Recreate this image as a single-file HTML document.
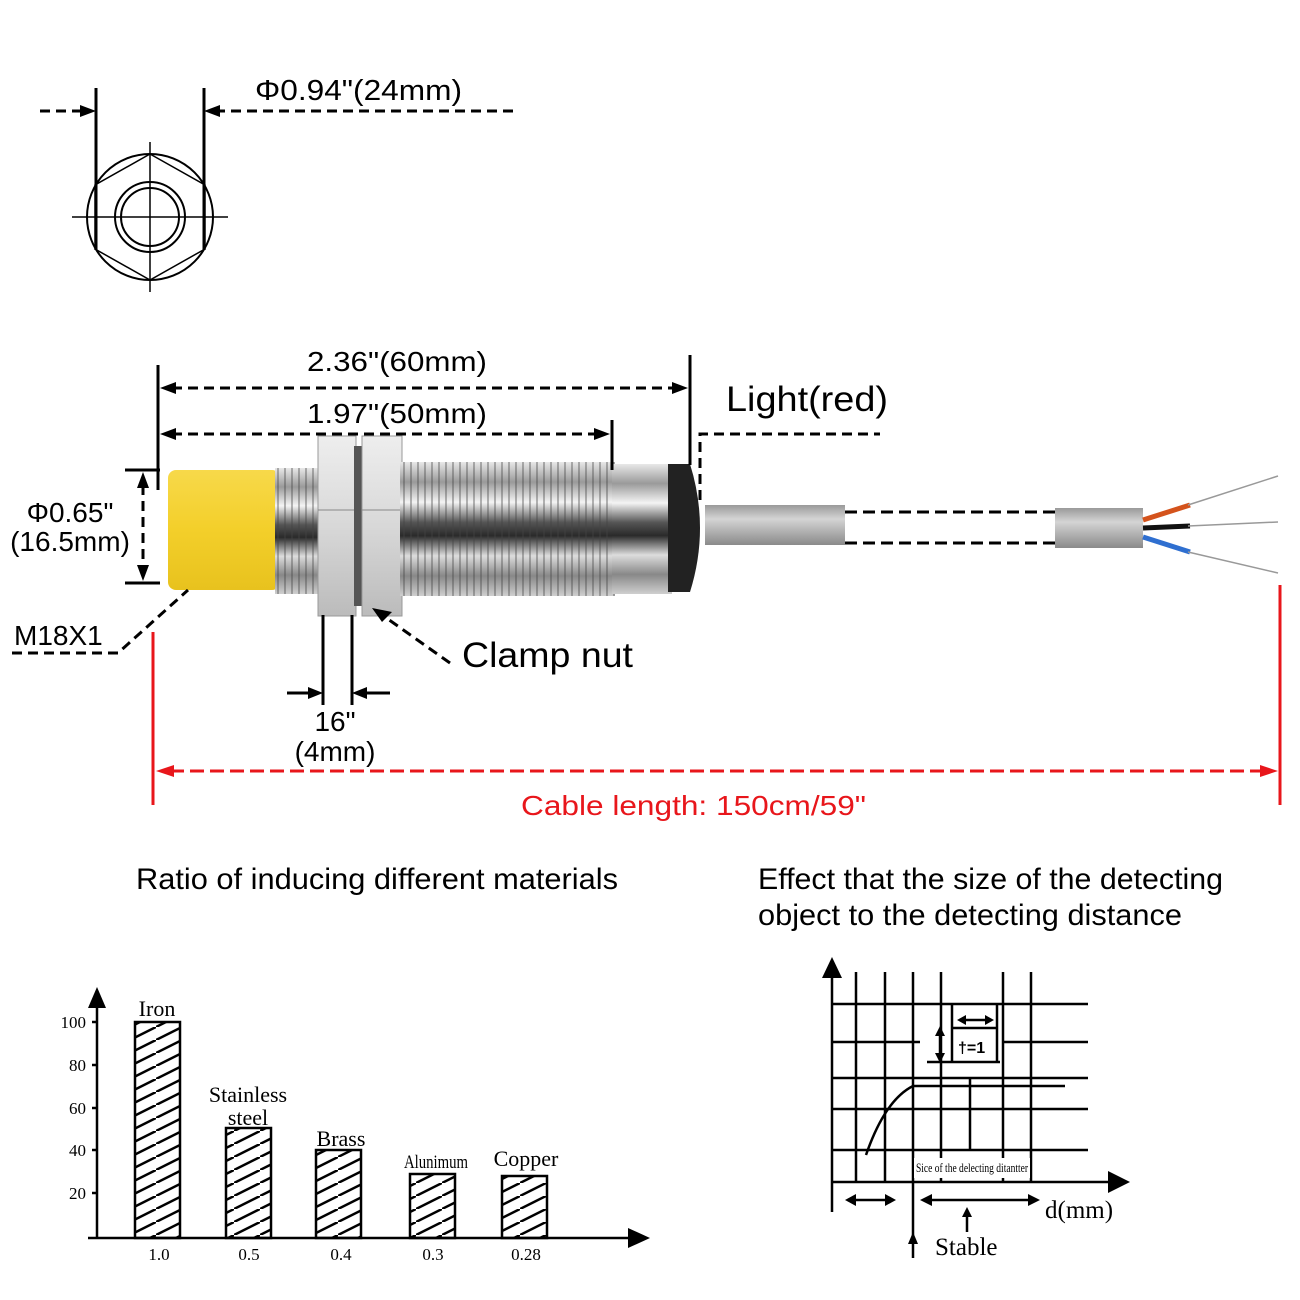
<!DOCTYPE html>
<html><head><meta charset="utf-8"><style>
html,body{margin:0;padding:0;background:#fff;}
svg{display:block}
.s{font-family:"Liberation Sans",sans-serif;}
.r{font-family:"Liberation Serif",serif;}
</style></head><body>
<svg width="1300" height="1300" viewBox="0 0 1300 1300" xmlns="http://www.w3.org/2000/svg">
<defs>
<pattern id="h" patternUnits="userSpaceOnUse" width="26" height="13">
<line x1="-2" y1="14" x2="28" y2="-1" stroke="#000" stroke-width="2.5"/>
</pattern>
<linearGradient id="yel" x1="0" y1="0" x2="0" y2="1">
<stop offset="0" stop-color="#f7d94a"/><stop offset="0.5" stop-color="#f3cf2a"/><stop offset="1" stop-color="#e8c21e"/></linearGradient>
<linearGradient id="met" x1="0" y1="0" x2="0" y2="1">
<stop offset="0" stop-color="#e8e8e8"/><stop offset="0.15" stop-color="#9a9a9a"/><stop offset="0.3" stop-color="#f4f4f4"/><stop offset="0.45" stop-color="#555"/><stop offset="0.55" stop-color="#2a2a2a"/><stop offset="0.7" stop-color="#ddd"/><stop offset="0.85" stop-color="#888"/><stop offset="1" stop-color="#cfcfcf"/></linearGradient>
<linearGradient id="nut" x1="0" y1="0" x2="0" y2="1">
<stop offset="0" stop-color="#eee"/><stop offset="0.5" stop-color="#d8d8d8"/><stop offset="1" stop-color="#bbb"/></linearGradient>
<linearGradient id="cab" x1="0" y1="0" x2="0" y2="1">
<stop offset="0" stop-color="#9a9a9a"/><stop offset="0.35" stop-color="#d4d4d4"/><stop offset="1" stop-color="#8a8a8a"/></linearGradient>
<pattern id="thr" patternUnits="userSpaceOnUse" width="7" height="10">
<rect width="7" height="10" fill="none"/><line x1="5" y1="0" x2="5" y2="10" stroke="#444" stroke-width="1.5" opacity="0.5"/></pattern>
</defs>

<!-- top view -->
<g stroke="#000" fill="none" stroke-width="2">
<circle cx="150" cy="217" r="63"/>
<polygon points="150,154 205,185 205,249 150,280 95,249 95,185" stroke-width="1.5"/>
<circle cx="150" cy="217" r="35"/>
<circle cx="150" cy="217" r="29"/>
<line x1="72" y1="217" x2="228" y2="217" stroke-width="1.5"/>
<line x1="150" y1="142" x2="150" y2="292" stroke-width="1.5"/>
<line x1="96" y1="88" x2="96" y2="250" stroke-width="3"/>
<line x1="204" y1="88" x2="204" y2="250" stroke-width="3"/>
<line x1="40" y1="111" x2="90" y2="111" stroke-width="3" stroke-dasharray="10,6"/>
<line x1="215" y1="111" x2="515" y2="111" stroke-width="3" stroke-dasharray="10,6"/>
</g>
<polygon points="96,111 80,105 80,117" fill="#000"/>
<polygon points="204,111 220,105 220,117" fill="#000"/>
<text x="255" y="100" class="s" font-size="29" textLength="207" lengthAdjust="spacingAndGlyphs">Φ0.94"(24mm)</text>

<!-- sensor -->
<rect x="168" y="470" width="112" height="120" rx="8" fill="url(#yel)"/>
<rect x="275" y="468" width="45" height="126" fill="url(#met)"/>
<rect x="275" y="468" width="45" height="126" fill="url(#thr)"/>
<rect x="318" y="436" width="38" height="180" fill="url(#nut)" stroke="#999"/>
<line x1="318" y1="510" x2="356" y2="510" stroke="#888"/>
<rect x="354" y="446" width="10" height="160" fill="#555"/>
<rect x="362" y="436" width="40" height="180" fill="url(#nut)" stroke="#999"/>
<line x1="362" y1="510" x2="402" y2="510" stroke="#888"/>
<rect x="400" y="462" width="215" height="134" fill="url(#met)"/>
<rect x="400" y="462" width="215" height="134" fill="url(#thr)"/>
<rect x="612" y="464" width="60" height="130" fill="url(#met)"/>
<path d="M668,464 L690,464 Q710,528 690,592 L668,592 Z" fill="#222"/>
<rect x="705" y="505" width="140" height="40" fill="url(#cab)"/>
<rect x="1055" y="508" width="88" height="40" fill="url(#cab)"/>
<g stroke-width="5" fill="none">
<path d="M1143,520 L1190,505" stroke="#d4531c"/>
<path d="M1143,528 L1190,526" stroke="#111"/>
<path d="M1143,537 L1190,552" stroke="#2f6fd0"/>
</g>
<g stroke="#999" stroke-width="1.5" fill="none">
<path d="M1188,505 L1278,476"/><path d="M1188,526 L1278,522"/><path d="M1188,552 L1278,573"/>
</g>
<g stroke="#000" stroke-width="3" fill="none" stroke-dasharray="12,6">
<line x1="845" y1="512" x2="1055" y2="512"/>
<line x1="845" y1="543" x2="1055" y2="543"/>
</g>

<!-- dimensions -->
<g stroke="#000" stroke-width="3" fill="none">
<line x1="158" y1="365" x2="158" y2="490"/>
<line x1="690" y1="355" x2="690" y2="465"/>
<line x1="612" y1="420" x2="612" y2="470"/>
<line x1="172" y1="388" x2="678" y2="388" stroke-dasharray="10,6"/>
<line x1="172" y1="434" x2="600" y2="434" stroke-dasharray="10,6"/>
<path d="M700,500 L700,434 L880,434" stroke-dasharray="10,6"/>
<line x1="125" y1="470" x2="160" y2="470"/>
<line x1="125" y1="583" x2="160" y2="583"/>
<line x1="143" y1="485" x2="143" y2="570" stroke-dasharray="10,6"/>
<path d="M12,653 L118,653 L188,590" stroke-dasharray="10,6"/>
<line x1="450" y1="663" x2="385" y2="617" stroke-dasharray="10,6"/>
<line x1="323" y1="615" x2="323" y2="705"/>
<line x1="352" y1="615" x2="352" y2="705"/>
<line x1="287" y1="693" x2="312" y2="693"/>
<line x1="390" y1="693" x2="363" y2="693"/>
</g>
<g fill="#000">
<polygon points="160,388 176,382 176,394"/><polygon points="688,388 672,382 672,394"/>
<polygon points="160,434 176,428 176,440"/><polygon points="610,434 594,428 594,440"/>
<polygon points="143,472 137,488 149,488"/><polygon points="143,581 137,565 149,565"/>
<polygon points="323,693 308,687 308,699"/><polygon points="352,693 367,687 367,699"/>
<polygon points="372,608 392,612 382,622"/>
</g>
<text x="307" y="371" class="s" font-size="28" textLength="180" lengthAdjust="spacingAndGlyphs">2.36"(60mm)</text>
<text x="307" y="423" class="s" font-size="28" textLength="180" lengthAdjust="spacingAndGlyphs">1.97"(50mm)</text>
<text x="726" y="411" class="s" font-size="35" textLength="162" lengthAdjust="spacingAndGlyphs">Light(red)</text>
<text x="70" y="522" class="s" font-size="28" text-anchor="middle">Φ0.65"</text>
<text x="70" y="551" class="s" font-size="28" text-anchor="middle">(16.5mm)</text>
<text x="14" y="645" class="s" font-size="28">M18X1</text>
<text x="462" y="667" class="s" font-size="35" textLength="171" lengthAdjust="spacingAndGlyphs">Clamp nut</text>
<text x="335" y="731" class="s" font-size="28" text-anchor="middle">16"</text>
<text x="335" y="761" class="s" font-size="28" text-anchor="middle">(4mm)</text>

<!-- cable length -->
<g stroke="#e8161b" stroke-width="3" fill="none">
<line x1="153" y1="632" x2="153" y2="805"/>
<line x1="1280" y1="585" x2="1280" y2="805"/>
<line x1="170" y1="771" x2="1264" y2="771" stroke-dasharray="14,6"/>
</g>
<polygon points="156,771 174,765 174,777" fill="#e8161b"/>
<polygon points="1278,771 1260,765 1260,777" fill="#e8161b"/>
<text x="521" y="815" class="s" font-size="28" fill="#e8161b" textLength="345" lengthAdjust="spacingAndGlyphs">Cable length: 150cm/59"</text>

<!-- headings -->
<text x="136" y="889" class="s" font-size="30" textLength="482" lengthAdjust="spacingAndGlyphs">Ratio of inducing different materials</text>
<text x="758" y="889" class="s" font-size="30" textLength="465" lengthAdjust="spacingAndGlyphs">Effect that the size of the detecting</text>
<text x="758" y="925" class="s" font-size="30" textLength="424" lengthAdjust="spacingAndGlyphs">object to the detecting distance</text>

<!-- bar chart -->
<g stroke="#000" stroke-width="2.5" fill="none">
<line x1="97" y1="1000" x2="97" y2="1238"/>
<line x1="88" y1="1238" x2="635" y2="1238"/>
<line x1="92" y1="1022" x2="97" y2="1022"/><line x1="92" y1="1065" x2="97" y2="1065"/>
<line x1="92" y1="1108" x2="97" y2="1108"/><line x1="92" y1="1150" x2="97" y2="1150"/>
<line x1="92" y1="1193" x2="97" y2="1193"/>
</g>
<polygon points="97,987 88,1008 106,1008" fill="#000"/>
<polygon points="650,1238 628,1228 628,1248" fill="#000"/>
<g stroke="#000" stroke-width="2.5">
<rect x="135" y="1022" width="45" height="216" fill="url(#h)"/>
<rect x="226" y="1128" width="45" height="110" fill="url(#h)"/>
<rect x="316" y="1150" width="45" height="88" fill="url(#h)"/>
<rect x="410" y="1174" width="45" height="64" fill="url(#h)"/>
<rect x="502" y="1176" width="45" height="62" fill="url(#h)"/>
</g>
<g class="r" font-size="17" text-anchor="end">
<text x="86" y="1028">100</text><text x="86" y="1071">80</text><text x="86" y="1114">60</text>
<text x="86" y="1156">40</text><text x="86" y="1199">20</text>
</g>
<g class="r" font-size="17" text-anchor="middle">
<text x="159" y="1260">1.0</text><text x="249" y="1260">0.5</text><text x="341" y="1260">0.4</text>
<text x="433" y="1260">0.3</text><text x="526" y="1260">0.28</text>
</g>
<g class="r" font-size="22" text-anchor="middle">
<text x="157" y="1016">Iron</text>
<text x="248" y="1102">Stainless</text>
<text x="248" y="1125">steel</text>
<text x="341" y="1146">Brass</text>
<text x="436" y="1168" font-size="19" textLength="64" lengthAdjust="spacingAndGlyphs">Alunimum</text>
<text x="526" y="1166">Copper</text>
</g>

<!-- right chart -->
<g stroke="#000" stroke-width="2.5" fill="none">
<line x1="832" y1="975" x2="832" y2="1212"/>
<line x1="832" y1="1182" x2="1112" y2="1182"/>
<line x1="856" y1="972" x2="856" y2="1182"/>
<line x1="885" y1="972" x2="885" y2="1182"/>
<line x1="913" y1="972" x2="913" y2="1258"/>
<line x1="941" y1="972" x2="941" y2="1182"/>
<line x1="1003" y1="972" x2="1003" y2="1182"/>
<line x1="1031" y1="972" x2="1031" y2="1182"/>
<line x1="970" y1="1078" x2="970" y2="1150"/>
<line x1="832" y1="1004" x2="1088" y2="1004"/>
<line x1="832" y1="1042" x2="920" y2="1042"/>
<line x1="1003" y1="1042" x2="1088" y2="1042"/>
<line x1="927" y1="1062" x2="1000" y2="1062"/>
<line x1="952" y1="1004" x2="952" y2="1062"/>
<line x1="997" y1="1004" x2="997" y2="1062"/>
<line x1="952" y1="1028" x2="997" y2="1028"/>
<line x1="832" y1="1078" x2="1088" y2="1078"/>
<line x1="913" y1="1086" x2="1065" y2="1086"/>
<line x1="832" y1="1109" x2="1088" y2="1109"/>
<line x1="832" y1="1150" x2="1088" y2="1150"/>
<path d="M866,1155 Q885,1100 913,1086"/>
<line x1="848" y1="1200" x2="893" y2="1200"/>
<line x1="924" y1="1200" x2="1034" y2="1200"/>
<line x1="967" y1="1212" x2="967" y2="1232"/>
<line x1="940" y1="1030" x2="940" y2="1060"/>
<line x1="960" y1="1020" x2="990" y2="1020"/>
</g>
<g fill="#000">
<polygon points="832,957 822,978 842,978"/>
<polygon points="1130,1182 1108,1171 1108,1193"/>
<polygon points="845,1200 856,1194 856,1206"/><polygon points="896,1200 885,1194 885,1206"/>
<polygon points="920,1200 932,1194 932,1206"/><polygon points="1040,1200 1028,1194 1028,1206"/>
<polygon points="967,1207 962,1217 972,1217"/>
<polygon points="913,1232 908,1244 918,1244"/>
<polygon points="940,1026 935,1036 945,1036"/><polygon points="940,1063 935,1053 945,1053"/>
<polygon points="957,1020 966,1015 966,1025"/><polygon points="994,1020 985,1015 985,1025"/>
</g>
<text x="958" y="1053" class="s" font-size="16" font-weight="bold">†=1</text>
<rect x="914" y="1158" width="116" height="20" fill="#fff"/>
<text x="916" y="1172" class="r" font-size="13" textLength="112" lengthAdjust="spacingAndGlyphs">Sice of the delecting ditantter</text>
<text x="1045" y="1218" class="r" font-size="25">d(mm)</text>
<text x="935" y="1255" class="r" font-size="25">Stable</text>
</svg>
</body></html>
